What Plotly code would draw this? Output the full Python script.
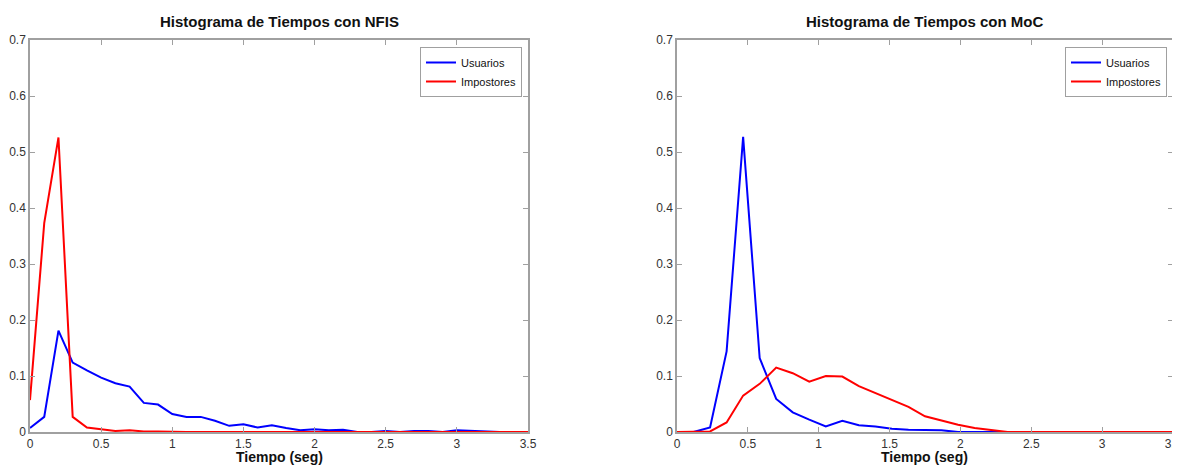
import plotly.graph_objects as go

# ---- Data ----
x_nfis = [round(0.1 * i, 2) for i in range(36)]
nfis_usuarios = [0.007, 0.027, 0.181, 0.124, 0.110, 0.097, 0.087, 0.081, 0.052, 0.049,
                 0.032, 0.027, 0.027, 0.020, 0.011, 0.014, 0.008, 0.012, 0.007, 0.003,
                 0.005, 0.003, 0.004, 0.000, 0.000, 0.002, 0.000, 0.002, 0.002, 0.000,
                 0.003, 0.002, 0.000, 0.000, 0.000, 0.000]
nfis_impostores = [0.057, 0.373, 0.526, 0.027, 0.008, 0.005, 0.002, 0.003, 0.001, 0.001,
                   0.000, 0.000, 0.000, 0.000, 0.000, 0.000, 0.000, 0.000, 0.000, 0.000,
                   0.000, 0.000, 0.000, 0.000, 0.000, 0.000, 0.000, 0.000, 0.000, 0.000,
                   0.000, 0.000, 0.000, 0.000, 0.000, 0.000]

x_moc = [3.5 * i / 30 for i in range(31)]
moc_usuarios = [0.000, 0.000, 0.008, 0.144, 0.527, 0.132, 0.059, 0.035, 0.022, 0.010,
                0.020, 0.012, 0.010, 0.006, 0.004, 0.004, 0.003, 0.000, 0.000, 0.000,
                0.000, 0.000, 0.000, 0.000, 0.000, 0.000, 0.000, 0.000, 0.000, 0.000,
                0.000]
moc_impostores = [0.000, 0.000, 0.001, 0.017, 0.065, 0.086, 0.115, 0.105, 0.090, 0.100,
                  0.099, 0.082, 0.070, 0.058, 0.045, 0.028, 0.020, 0.013, 0.007, 0.004,
                  0.000, 0.000, 0.000, 0.000, 0.000, 0.000, 0.000, 0.000, 0.000, 0.000,
                  0.000]

titles = ["Histograma de Tiempos con NFIS", "Histograma de Tiempos con MoC"]
series_names = ["Usuarios", "Impostores"]
x_label = "Tiempo (seg)"
x_ticks = [0, 0.5, 1, 1.5, 2, 2.5, 3, 3.5]
x_tick_text = ["0", "0.5", "1", "1.5", "2", "2.5", "3", "3.5"]
y_ticks = [0, 0.1, 0.2, 0.3, 0.4, 0.5, 0.6, 0.7]
y_tick_text = ["0", "0.1", "0.2", "0.3", "0.4", "0.5", "0.6", "0.7"]

# the page body has an 8px default margin; size the figure to fit the window
OFF = 8
W, H = 1180 - OFF, 465 - OFF
FONT = "Liberation Sans, Arial, sans-serif"
BLUE, RED = "#0000ff", "#ff0000"

fig = go.Figure()

fig.add_trace(go.Scatter(x=x_nfis, y=nfis_usuarios, mode="lines", name=series_names[0],
                         line=dict(color=BLUE, width=2), xaxis="x", yaxis="y", legend="legend"))
fig.add_trace(go.Scatter(x=x_nfis, y=nfis_impostores, mode="lines", name=series_names[1],
                         line=dict(color=RED, width=2), xaxis="x", yaxis="y", legend="legend"))
fig.add_trace(go.Scatter(x=x_moc, y=moc_usuarios, mode="lines", name=series_names[0],
                         line=dict(color=BLUE, width=2), xaxis="x2", yaxis="y2", legend="legend2"))
fig.add_trace(go.Scatter(x=x_moc, y=moc_impostores, mode="lines", name=series_names[1],
                         line=dict(color=RED, width=2), xaxis="x2", yaxis="y2", legend="legend2"))

dom1 = [(30 - OFF) / W, (528 - OFF) / W]
dom2 = [(677 - OFF) / W, (1173 - OFF) / W]
top_px, bot_px = 40 - OFF, 432 - OFF
plot_h = bot_px - top_px

axis_common = dict(showline=True, linecolor="#a0a0a0", linewidth=1.5, mirror="ticks",
                   ticks="inside", ticklen=5, tickcolor="#a0a0a0", showgrid=False,
                   zeroline=False, automargin=False, ticklabeloverflow="allow",
                   tickfont=dict(family=FONT, size=12, color="#333333"))

legend_common = dict(bgcolor="white", bordercolor="#a0a0a0", borderwidth=1,
                     font=dict(family=FONT, size=11, color="#111111"),
                     xanchor="right", yanchor="top", y=1 - 7 / plot_h, tracegroupgap=0,
                     itemwidth=30)

fig.update_layout(
    width=W, height=H,
    paper_bgcolor="white", plot_bgcolor="white",
    margin=dict(l=0, r=0, t=top_px, b=H - bot_px, pad=0, autoexpand=False),
    font=dict(family=FONT),
    xaxis=dict(domain=dom1, range=[0, 3.5], tickvals=x_ticks, ticktext=x_tick_text,
               anchor="y", **axis_common),
    yaxis=dict(domain=[0, 1], range=[0, 0.7], tickvals=y_ticks, ticktext=y_tick_text,
               anchor="x", **axis_common),
    xaxis2=dict(domain=dom2, range=[0, 3.5], tickvals=x_ticks, ticktext=x_tick_text,
                anchor="y2", **axis_common),
    yaxis2=dict(domain=[0, 1], range=[0, 0.7], tickvals=y_ticks, ticktext=y_tick_text,
                anchor="x2", **axis_common),
    legend=dict(x=dom1[1] - 6 / W, **legend_common),
    legend2=dict(x=dom2[1] - 6 / W, **legend_common),
)

for dom, t in zip([dom1, dom2], titles):
    cx = (dom[0] + dom[1]) / 2
    fig.add_annotation(text="<b>" + t + "</b>", x=cx, y=1, xref="paper", yref="paper",
                       xanchor="center", yanchor="bottom", yshift=8, showarrow=False,
                       font=dict(family=FONT, size=15, color="#111111"))
    fig.add_annotation(text="<b>" + x_label + "</b>", x=cx, y=0, xref="paper", yref="paper",
                       xanchor="center", yanchor="top", yshift=-15, showarrow=False,
                       font=dict(family=FONT, size=14, color="#111111"))

fig.write_html("out.html")
